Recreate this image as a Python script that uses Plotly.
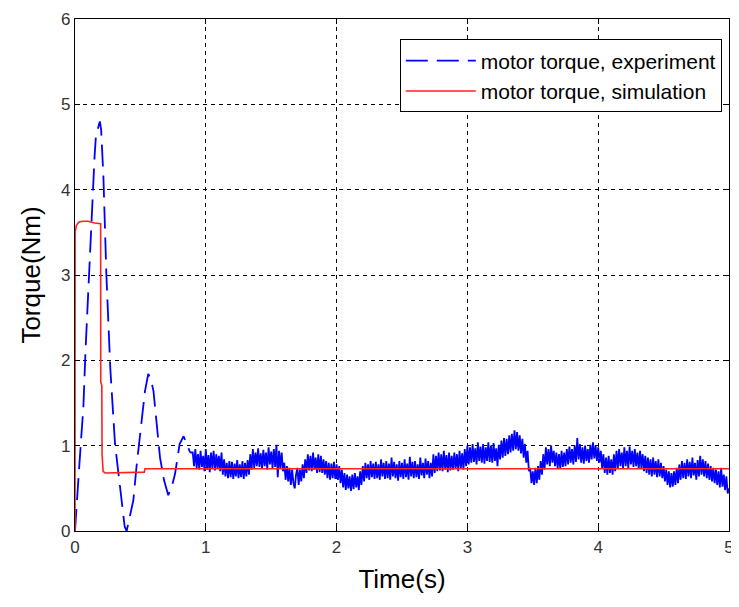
import numpy as np
import plotly.graph_objects as go

# ---- experiment, transient part (time, torque) ----
exp_t_early = [0, 0.01, 0.03, 0.05, 0.064, 0.08, 0.10, 0.12, 0.135, 0.15, 0.16, 0.175, 0.19, 0.2,
               0.217, 0.24, 0.27, 0.306, 0.344, 0.38, 0.395, 0.41, 0.446, 0.47, 0.497, 0.52, 0.535,
               0.56, 0.58, 0.6, 0.624, 0.65, 0.68, 0.70, 0.713, 0.74, 0.765, 0.80, 0.83, 0.86, 0.88]
exp_y_early = [0, 0.2, 0.7, 1.15, 1.45, 2.1, 2.8, 3.5, 3.97, 4.4, 4.63, 4.72, 4.8, 4.7,
               4.16, 3.0, 1.9, 1.02, 0.48, 0.05, 0.0, 0.1, 0.36, 0.75, 1.13, 1.45, 1.64,
               1.84, 1.78, 1.64, 1.25, 0.86, 0.6, 0.48, 0.42, 0.52, 0.67, 1.02, 1.11, 1.0, 0.92]

# ---- experiment, steady (noisy) part: samples every 0.01 s from 0.90 s ----
exp_t0 = 0.90
exp_dt = 0.01
exp_y_steady = [
    0.92, 0.76, 0.96, 0.74, 0.90, 0.72, 0.94, 0.75, 0.88, 0.70,
    0.96, 0.72, 0.89, 0.69, 0.92, 0.74, 0.94, 0.71, 0.90, 0.73,
    0.88, 0.70, 0.92, 0.66, 0.84, 0.64, 0.80, 0.62, 0.82, 0.63,
    0.81, 0.61, 0.79, 0.64, 0.83, 0.62, 0.78, 0.63, 0.82, 0.61,
    0.80, 0.64, 0.83, 0.66, 0.90, 0.72, 0.96, 0.74, 0.92, 0.76,
    0.97, 0.75, 0.91, 0.73, 0.95, 0.76, 0.92, 0.72, 0.98, 0.78,
    0.93, 0.74, 0.96, 0.75, 1.01, 0.63, 0.94, 0.74, 0.92, 0.70,
    0.80, 0.60, 0.76, 0.58, 0.74, 0.54, 0.72, 0.56, 0.50, 0.66,
    0.74, 0.54, 0.72, 0.58, 0.78, 0.62, 0.84, 0.68, 0.90, 0.71,
    0.88, 0.70, 0.92, 0.72, 0.86, 0.68, 0.90, 0.69, 0.88, 0.68,
    0.84, 0.66, 0.82, 0.62, 0.80, 0.60, 0.79, 0.62, 0.81, 0.61,
    0.78, 0.60, 0.76, 0.56, 0.72, 0.51, 0.68, 0.48, 0.66, 0.50,
    0.64, 0.47, 0.66, 0.49, 0.68, 0.51, 0.64, 0.48, 0.70, 0.54,
    0.76, 0.58, 0.80, 0.62, 0.78, 0.60, 0.82, 0.63, 0.79, 0.61,
    0.81, 0.62, 0.78, 0.60, 0.84, 0.64, 0.80, 0.61, 0.82, 0.62,
    0.79, 0.60, 0.86, 0.64, 0.81, 0.62, 0.78, 0.59, 0.82, 0.63,
    0.80, 0.61, 0.84, 0.63, 0.79, 0.60, 0.87, 0.64, 0.81, 0.62,
    0.82, 0.63, 0.78, 0.61, 0.86, 0.65, 0.80, 0.62, 0.85, 0.66,
    0.82, 0.62, 0.80, 0.64, 0.90, 0.68, 0.88, 0.70, 0.92, 0.71,
    0.90, 0.70, 0.94, 0.72, 0.89, 0.69, 0.92, 0.71, 0.88, 0.72,
    0.92, 0.73, 0.90, 0.70, 0.94, 0.74, 0.91, 0.72, 0.96, 0.76,
    1.00, 0.78, 0.98, 0.80, 1.02, 0.81, 0.97, 0.78, 1.04, 0.82,
    0.99, 0.80, 1.02, 0.79, 0.98, 0.82, 1.04, 0.81, 1.00, 0.80,
    1.03, 0.82, 0.97, 0.76, 1.01, 0.84, 1.06, 0.86, 1.09, 0.88,
    1.08, 0.90, 1.12, 0.92, 1.14, 0.94, 1.18, 0.96, 1.16, 0.94,
    1.12, 0.91, 1.08, 0.86, 1.02, 0.80, 0.94, 0.70, 0.74, 0.56,
    0.70, 0.54, 0.74, 0.56, 0.76, 0.60, 0.82, 0.66, 0.90, 0.72,
    0.98, 0.78, 0.96, 0.76, 1.00, 0.80, 0.94, 0.76, 0.92, 0.74,
    0.90, 0.73, 0.94, 0.75, 0.92, 0.76, 0.96, 0.78, 0.99, 0.80,
    0.96, 0.78, 1.00, 0.81, 1.09, 0.84, 1.02, 0.80, 0.98, 0.79,
    1.00, 0.82, 0.96, 0.80, 1.01, 0.84, 1.04, 0.85, 1.00, 0.82,
    0.98, 0.80, 0.94, 0.74, 0.90, 0.68, 0.86, 0.66, 0.88, 0.68,
    0.84, 0.66, 0.90, 0.70, 0.94, 0.74, 0.96, 0.76, 0.92, 0.74,
    0.98, 0.76, 0.94, 0.74, 0.99, 0.78, 0.94, 0.75, 0.96, 0.76,
    0.92, 0.73, 0.94, 0.74, 0.90, 0.70, 0.88, 0.68, 0.86, 0.66,
    0.84, 0.64, 0.86, 0.66, 0.82, 0.63, 0.84, 0.64, 0.80, 0.62,
    0.76, 0.58, 0.72, 0.54, 0.70, 0.51, 0.68, 0.52, 0.70, 0.54,
    0.74, 0.56, 0.78, 0.60, 0.82, 0.62, 0.80, 0.61, 0.84, 0.64,
    0.81, 0.62, 0.86, 0.65, 0.80, 0.60, 0.83, 0.64, 0.88, 0.66,
    0.84, 0.64, 0.82, 0.62, 0.79, 0.60, 0.76, 0.58, 0.74, 0.56,
    0.72, 0.54, 0.70, 0.51, 0.74, 0.52, 0.66, 0.48, 0.64, 0.44, 0.50,
]

# ---- simulation ----
sim_t = [0, 0.0005, 0.001, 0.01, 0.03, 0.06, 0.10, 0.15, 0.196, 0.197, 0.205, 0.207, 0.215,
         0.23, 0.53, 0.535, 5.0]
sim_y = [0, 3.0, 3.5, 3.58, 3.62, 3.63, 3.63, 3.61, 3.60, 1.75, 1.70, 0.90, 0.70,
         0.68, 0.69, 0.73, 0.73]

x_ticks = [0, 1, 2, 3, 4, 5]
y_ticks = [0, 1, 2, 3, 4, 5, 6]

exp_t_steady = [exp_t_early[-1]] + list(exp_t0 + exp_dt * np.arange(len(exp_y_steady)))
exp_y_steady_full = [exp_y_early[-1]] + exp_y_steady

BLUE = "#0000ff"
fig = go.Figure()
fig.add_trace(go.Scatter(
    x=exp_t_early, y=exp_y_early, mode="lines", name="motor torque, experiment",
    legendgroup="exp",
    line=dict(color=BLUE, width=1.8, dash="22px,9px"),
))
fig.add_trace(go.Scatter(
    x=exp_t_steady, y=exp_y_steady_full, mode="lines", name="motor torque, experiment",
    legendgroup="exp", showlegend=False,
    line=dict(color=BLUE, width=1.8),
))
fig.add_trace(go.Scatter(
    x=sim_t, y=sim_y, mode="lines", name="motor torque, simulation",
    line=dict(color="#ff2020", width=1.6),
))

axis_common = dict(
    showline=True, linecolor="black", linewidth=1.2, mirror="ticks",
    ticks="inside", ticklen=5, tickcolor="black",
    showgrid=True, gridcolor="black", gridwidth=1, griddash="4px,4px",
    zeroline=False, automargin=False, ticklabeloverflow="allow",
    tickfont=dict(family="Liberation Sans, Arial, sans-serif", size=17, color="#333333"),
)

# the page body adds an 8 px offset, so the figure is 8 px smaller than the window
fig.update_layout(
    width=731, height=599,
    margin=dict(l=67, r=10, t=11, b=76, autoexpand=False),
    paper_bgcolor="white", plot_bgcolor="white",
    font=dict(family="Liberation Sans, Arial, sans-serif"),
    xaxis=dict(range=[0, 5], tickvals=x_ticks,
               title=dict(text="Time(s)", font=dict(size=26, color="black"), standoff=14),
               **axis_common),
    yaxis=dict(range=[0, 6], tickvals=y_ticks,
               title=dict(text="Torque(Nm)", font=dict(size=26, color="black"), standoff=12),
               **axis_common),
    legend=dict(x=0.989, y=0.96, xanchor="right", yanchor="top",
                bgcolor="white", bordercolor="black", borderwidth=1,
                font=dict(size=21, color="black"), itemwidth=70,
                tracegroupgap=0),
    showlegend=True,
)

fig.write_html("out.html")
